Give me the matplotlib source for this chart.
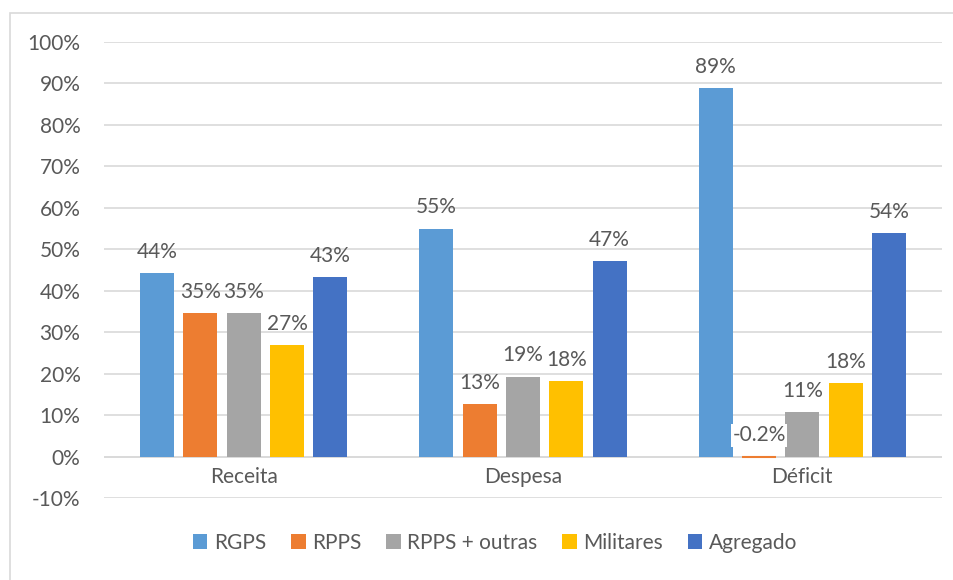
import matplotlib.pyplot as plt
import numpy as np
from matplotlib.patches import Rectangle

categories = ["Receita", "Despesa", "Déficit"]
series = ["RGPS", "RPPS", "RPPS + outras", "Militares", "Agregado"]
values = {
    "RGPS": [44.3, 55.0, 88.8],
    "RPPS": [34.7, 12.6, -0.2],
    "RPPS + outras": [34.6, 19.3, 10.7],
    "Militares": [27.0, 18.3, 17.8],
    "Agregado": [43.4, 47.2, 54.0],
}
labels = {
    "RGPS": ["44%", "55%", "89%"],
    "RPPS": ["35%", "13%", "-0.2%"],
    "RPPS + outras": ["35%", "19%", "11%"],
    "Militares": ["27%", "18%", "18%"],
    "Agregado": ["43%", "47%", "54%"],
}
colors = ["#5B9BD5", "#ED7D31", "#A5A5A5", "#FFC000", "#4472C4"]
yticks = np.arange(-10, 101, 10)

plt.rcParams["font.family"] = ["Lato", "DejaVu Sans"]
text_color = "#595959"
fs = 15

fig = plt.figure(figsize=(9.54, 5.8), dpi=100)
ax = fig.add_axes([104 / 954, 82 / 580, 838 / 954, 456 / 580])

# chart frame
fig.patches.append(Rectangle((10 / 954, -0.1), 1.2, (580 - 13) / 580 + 0.1,
                             transform=fig.transFigure, fill=False,
                             edgecolor="#D9D9D9", linewidth=1.2))

x = np.arange(len(categories))
width = 0.122
step = 0.155
for i, name in enumerate(series):
    pos = x + (i - 2) * step
    bars = ax.bar(pos, values[name], width, color=colors[i], label=name, zorder=2)
    for j, b in enumerate(bars):
        v = values[name][j]
        top = max(v, 0)
        bbox = None
        if v < 0:
            # tiny negative bar: give it an outline so it stays visible
            b.set_edgecolor(colors[i])
            b.set_linewidth(1.5)
            bbox = dict(facecolor="white", edgecolor="none", pad=1)
        ax.annotate(labels[name][j], (b.get_x() + b.get_width() / 2, top),
                    xytext=(0, 8), textcoords="offset points",
                    ha="center", va="bottom", fontsize=fs,
                    color=text_color, bbox=bbox, zorder=3)

ax.set_xlim(-0.5, 2.5)
ax.set_ylim(-10, 100)
ax.set_yticks(yticks)
ax.set_yticklabels([f"{t}%" for t in yticks], fontsize=fs, color=text_color)
ax.set_xticks([])
for k, c in enumerate(categories):
    ax.text(k, -2.6, c, ha="center", va="top", fontsize=fs, color=text_color)

ax.grid(axis="y", color="#D9D9D9", linewidth=1.2, zorder=0)
ax.axhline(0, color="#D9D9D9", linewidth=1.2, zorder=1)
for s in ax.spines.values():
    s.set_visible(False)
ax.tick_params(axis="y", length=0, pad=17)

fig.legend(loc="center", bbox_to_anchor=(495 / 954, 37 / 580), ncol=5,
           frameon=False, fontsize=fs, handlelength=0.7, handleheight=0.7,
           handletextpad=0.3, columnspacing=1.2, labelcolor=text_color)

fig.savefig("out.png", dpi=100)
